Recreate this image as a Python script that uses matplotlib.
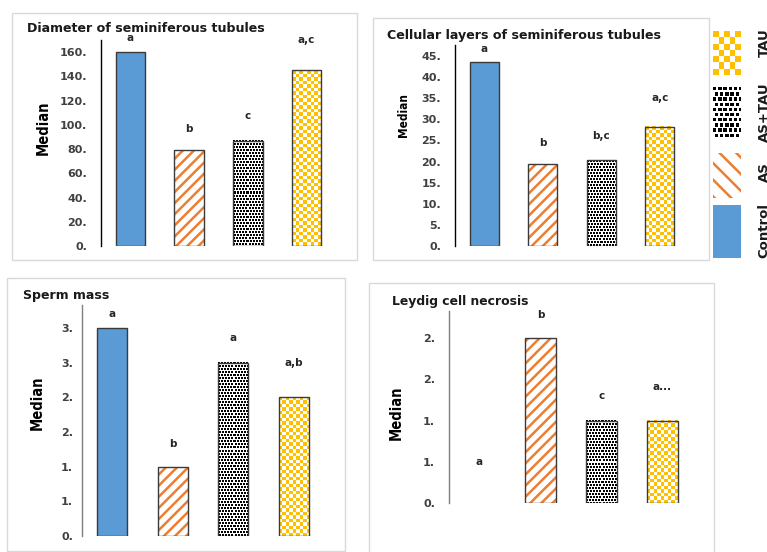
import matplotlib
matplotlib.use('Agg')
import matplotlib.pyplot as plt
import numpy as np
from matplotlib.patches import Rectangle

plt.rcParams['font.family'] = ['DejaVu Sans']
plt.rcParams['hatch.linewidth'] = 1.8

W, H = 767, 552

# Datos
groups = ['Control', 'AS', 'AS+TAU', 'TAU']

diameter = [160, 79, 87, 145]
diameter_letters = ['a', 'b', 'c', 'a,c']
diameter_letter_y = [171.5, 96.5, 107, 170]
diameter_ticks = [0, 20, 40, 60, 80, 100, 120, 140, 160]
diameter_ticklabels = ['0.', '20.', '40.', '60.', '80.', '100.', '120.', '140.', '160.']

layers = [43.6, 19.4, 20.3, 28.2]
layers_letters = ['a', 'b', 'b,c', 'a,c']
layers_letter_y = [46.7, 24.4, 26.0, 35.0]
layers_ticks = [0, 5, 10, 15, 20, 25, 30, 35, 40, 45]
layers_ticklabels = ['0.', '5.', '10.', '15.', '20.', '25.', '30.', '35.', '40.', '45.']

sperm = [3.0, 1.0, 2.5, 2.0]
sperm_letters = ['a', 'b', 'a', 'a,b']
sperm_letter_y = [3.2, 1.33, 2.86, 2.5]
sperm_ticks = [0, 0.5, 1.0, 1.5, 2.0, 2.5, 3.0]
sperm_ticklabels = ['0.', '1.', '1.', '2.', '2.', '3.', '3.']

leydig = [0.0, 2.0, 1.0, 1.0]
leydig_letters = ['a', 'b', 'c', 'a...']
leydig_letter_y = [0.5, 2.28, 1.3, 1.41]
leydig_ticks = [0, 0.5, 1.0, 1.5, 2.0]
leydig_ticklabels = ['0.', '1.', '1.', '2.', '2.']

BLUE = '#5B9BD5'
ORANGE = '#ED7D31'
GOLD = '#FFC000'
EDGE = '#3a3a3a'


def rect(l, t, r, b):
    return [l / W, 1 - b / H, (r - l) / W, (b - t) / H]


def pattern_img(kind, nx, ny):
    yy, xx = np.mgrid[0:ny, 0:nx]
    img = np.ones((ny, nx, 3))
    if kind == 'checker':
        on = (xx + yy) % 2 == 0
        img[on] = matplotlib.colors.to_rgb(GOLD)
    else:
        shift = ((yy // 3) % 2) * 2
        on = ((yy % 3) < 2) & (((xx + shift) % 3) < 2)
        img[on] = (0, 0, 0)
    return img


def fill_texture(ax, patch, kind, cell):
    x0, y0 = patch.get_x(), patch.get_y()
    w, h = patch.get_width(), patch.get_height()
    if h == 0:
        return
    p0 = ax.transData.transform((x0, y0))
    p1 = ax.transData.transform((x0 + w, y0 + h))
    nx = max(1, int(round(abs(p1[0] - p0[0]) / cell)))
    ny = max(1, int(round(abs(p1[1] - p0[1]) / cell)))
    ax.imshow(pattern_img(kind, nx, ny), extent=(x0, x0 + w, y0, y0 + h),
              aspect='auto', interpolation='nearest', zorder=1)


def fill_bar(ax, patch, group, scale=1.0, stripe='///'):
    if group == 'Control':
        patch.set_facecolor(BLUE)
    elif group == 'AS':
        ax.add_patch(Rectangle((patch.get_x(), patch.get_y()), patch.get_width(),
                               patch.get_height(), facecolor='white', edgecolor=ORANGE,
                               hatch=stripe, linewidth=0, zorder=1))
    elif group == 'AS+TAU':
        fill_texture(ax, patch, 'dots', 1.0 * scale)
    else:
        fill_texture(ax, patch, 'checker', 3.5 * scale)


def panel(box, values, ylim, ticks, ticklabels, letters, letter_y, spine_color, pad):
    ax = fig.add_axes(rect(*box))
    x = np.arange(len(groups))
    ax.set_xlim(-0.5, 3.5)
    ax.set_ylim(0, ylim)
    bars = ax.bar(x, values, width=0.5, facecolor='none', edgecolor=EDGE,
                  linewidth=1.0, zorder=3)
    for bar, g, v in zip(bars, groups, values):
        if v == 0:
            bar.set_visible(False)
            continue
        fill_bar(ax, bar, g)
    ax.set_xlim(-0.5, 3.5)
    ax.set_ylim(0, ylim)
    for xi, lab, ly in zip(x, letters, letter_y):
        ax.text(xi, ly, lab, ha='center', va='center', fontsize=7.5,
                fontweight='bold', color='#262626', clip_on=False)
    ax.set_yticks(ticks)
    ax.set_yticklabels(ticklabels)
    ax.tick_params(axis='y', length=0, pad=pad, labelsize=8, labelcolor='#404040')
    for lab in ax.get_yticklabels():
        lab.set_fontweight('bold')
    ax.set_xticks([])
    for s in ['top', 'right', 'bottom']:
        ax.spines[s].set_visible(False)
    ax.spines['left'].set_color(spine_color)
    ax.spines['left'].set_linewidth(1.0)
    ax.patch.set_alpha(0)
    return ax


fig = plt.figure(figsize=(W / 100, H / 100), dpi=100)

# Marcos de cada panel
for l, t, r, b in [(12, 13, 357, 260), (373, 18, 709, 260), (7, 278, 345, 551), (369, 283, 714, 553)]:
    fig.add_artist(Rectangle((l / W, 1 - b / H), (r - l) / W, (b - t) / H,
                             transform=fig.transFigure, facecolor='none',
                             edgecolor='#D9D9D9', linewidth=1.0))

panel((101, 40, 336, 246), diameter, 170, diameter_ticks, diameter_ticklabels,
      diameter_letters, diameter_letter_y, 'black', 10)
panel((455, 45, 689, 246), layers, 47.6, layers_ticks, layers_ticklabels,
      layers_letters, layers_letter_y, 'black', 10)
panel((82, 305, 324, 536), sperm, 3.33, sperm_ticks, sperm_ticklabels,
      sperm_letters, sperm_letter_y, '#7f7f7f', 6.5)
panel((449, 311, 693, 503), leydig, 2.33, leydig_ticks, leydig_ticklabels,
      leydig_letters, leydig_letter_y, '#7f7f7f', 10)

# Titulos
titles = ['Diameter of seminiferous tubules', 'Cellular layers of seminiferous tubules',
          'Sperm mass', 'Leydig cell necrosis']
for txt, (tx, ty), fs in zip(titles, [(27, 29), (387, 36), (23, 296), (392, 302)],
                             [9.1, 9.1, 9.1, 8.9]):
    fig.text(tx / W, 1 - ty / H, txt, ha='left', va='center', fontsize=fs,
             fontweight='bold', color='#1a1a1a')

# Etiqueta "Median"
for (mx, my), fs in zip([(43, 128), (403, 115), (37, 403), (396, 413)], [10.5, 8.5, 10.5, 10.5]):
    fig.text(mx / W, 1 - my / H, 'Median', rotation=90, ha='center', va='center',
             fontsize=fs, fontweight='bold', fontstretch='condensed',
             family=['DejaVu Sans'])

# Leyenda vertical
lax = fig.add_axes(rect(705, 20, 767, 270))
lax.set_xlim(705, 767)
lax.set_ylim(270, 20)
lax.axis('off')
leg_boxes = [(205, 258), (153, 198), (87, 137), (31, 75)]
leg_text_y = [231, 172, 112, 43]
for g, (t, b), ty in zip(groups, leg_boxes, leg_text_y):
    p = Rectangle((713, b), 28, t - b, facecolor='none', edgecolor='none', zorder=3)
    lax.add_patch(p)
    fill_bar(lax, p, g, scale=1.7, stripe='\\\\')
    lax.text(764, ty, g, rotation=90, ha='center', va='center', fontsize=9.5,
             fontweight='bold', color='#1a1a1a', clip_on=False)
lax.set_xlim(705, 767)
lax.set_ylim(270, 20)

fig.savefig('out.png', dpi=100)
